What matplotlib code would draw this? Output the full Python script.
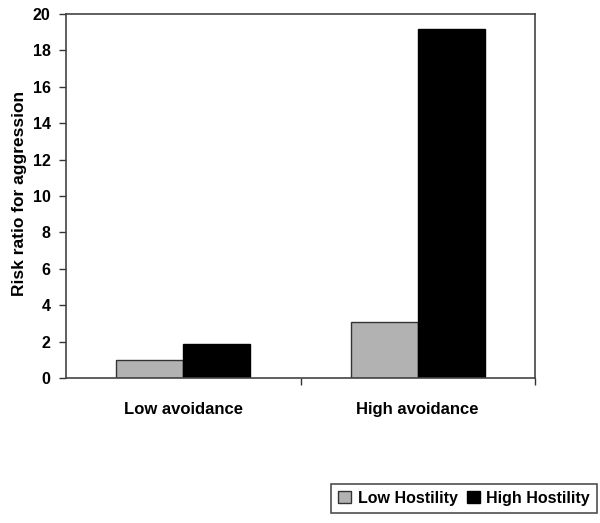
import matplotlib
matplotlib.use("Agg")
import matplotlib.pyplot as plt
import numpy as np

categories = ["Low avoidance", "High avoidance"]
series_names = ["Low Hostility", "High Hostility"]
low_hostility = [1.0, 3.1]
high_hostility = [1.85, 19.2]
y_ticks = [0, 2, 4, 6, 8, 10, 12, 14, 16, 18, 20]

plt.rcParams['font.family'] = ['Liberation Sans', 'DejaVu Sans']
plt.rcParams['font.weight'] = 'bold'

fig = plt.figure(figsize=(6.0, 5.23), dpi=100)
ax = fig.add_axes([66/600, 1-378/523, (535-66)/600, (378-14)/523])

x = np.arange(len(categories))
w = 0.286
ax.bar(x - w/2, low_hostility, width=w, color="#b2b2b2", edgecolor="#333333", linewidth=1.0, label=series_names[0])
ax.bar(x + w/2, high_hostility, width=w, color="#000000", edgecolor="#000000", linewidth=1.0, label=series_names[1])

ax.set_xlim(-0.5, len(categories) - 0.5)
ax.set_ylim(0, 20)
ax.set_yticks(y_ticks)
ax.set_yticklabels([str(t) for t in y_ticks], fontsize=11.5, fontweight='bold')
ax.set_xticks(x)
ax.set_xticklabels(categories, fontsize=12, fontweight='bold')
ax.tick_params(axis='x', length=0, pad=17)
ax.set_xticks([0.5, 1.5], minor=True)
ax.tick_params(axis='x', which='minor', length=5, direction='out', width=1, color="#333333")
ax.tick_params(axis='y', length=5, direction='out', width=1, color="#333333", pad=6)
for s in ax.spines.values():
    s.set_color("#444444")
    s.set_linewidth(1.2)
ax.set_ylabel("Risk ratio for aggression", fontsize=12.5, fontweight='bold', labelpad=5)
ax.yaxis.set_label_coords(-0.084, 0.506)

leg = fig.legend(loc='lower right', bbox_to_anchor=(597/600, 1-513/523), ncol=2,
                 fontsize=11.5, frameon=True, fancybox=False, edgecolor="#222222",
                 handlelength=0.8, handleheight=0.8, handletextpad=0.4, columnspacing=0.6,
                 borderpad=0.45, borderaxespad=0)
leg.get_frame().set_linewidth(1.2)
for t in leg.get_texts():
    t.set_fontweight('bold')

fig.savefig("out.png", dpi=100, facecolor="white")
